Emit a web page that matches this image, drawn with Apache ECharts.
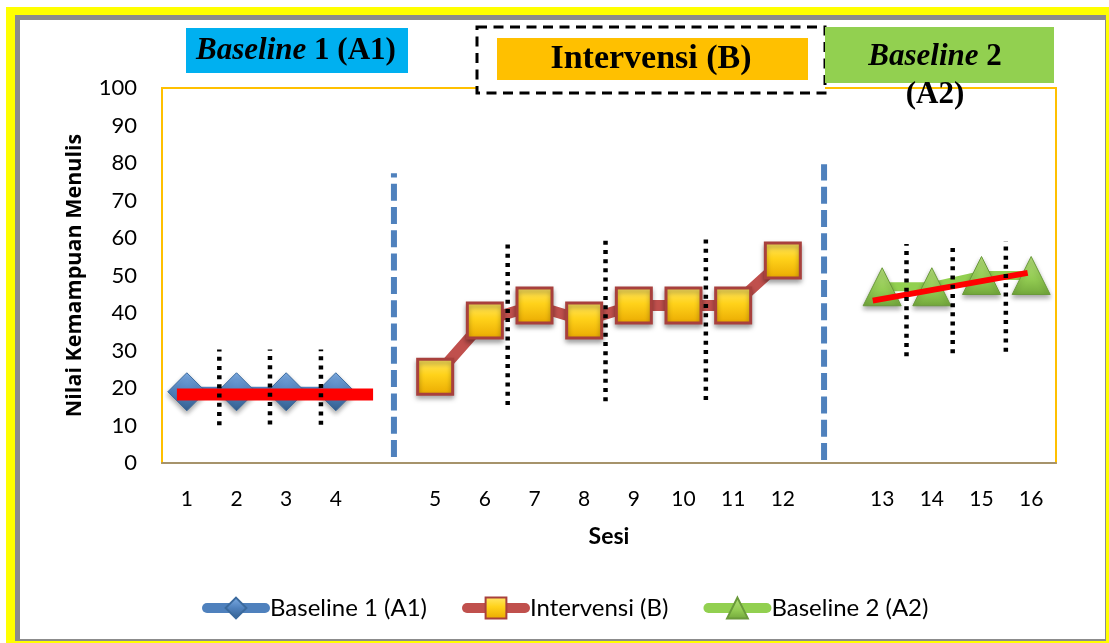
<!DOCTYPE html>
<html>
<head>
<meta charset="utf-8">
<script src="https://cdn.jsdelivr.net/npm/echarts@6/dist/echarts.min.js"></script>
<style>
  html, body { margin: 0; padding: 0; background: #ffffff; }
  #wrap { position: relative; width: 1109px; height: 643px; overflow: hidden; }
  .fr { position: absolute; }
  #chart { position: absolute; left: 0; top: 0; width: 1109px; height: 643px; }
</style>
</head>
<body>
<div id="wrap">
  <div class="fr" style="left:6px;top:7px;width:1103px;height:636px;background:#FFFF00"></div>
  <div class="fr" style="left:15px;top:15px;width:1091px;height:626px;background:#8C8C8C"></div>
  <div class="fr" style="left:20px;top:20px;width:1085px;height:619px;background:#FFFFFF"></div>
  <div id="chart"></div>
</div>
<script>
// ---- data ----
const categories = ['1','2','3','4','','5','6','7','8','9','10','11','12','','13','14','15','16'];
const baseline1  = [19, 19, 19, 19, '-', '-', '-', '-', '-', '-', '-', '-', '-', '-', '-', '-', '-', '-'];
const intervensi = ['-', '-', '-', '-', '-', 23, 38, 42, 38, 42, 42, 42, 54, '-', '-', '-', '-', '-'];
const baseline2  = ['-', '-', '-', '-', '-', '-', '-', '-', '-', '-', '-', '-', '-', '-', 47, 47, 50, 50];
const seriesNames = ['Baseline 1 (A1)', 'Intervensi (B)', 'Baseline 2 (A2)'];
const phaseLabels = ['Baseline', ' 1 (A1)', 'Intervensi (B)', 'Baseline', ' 2', '(A2)'];
const yMin = 0, yMax = 100, yStep = 10;
// trend lines [position on category scale, value]
const trendA1 = [[0.30, 18.3], [4.25, 18.3]];
const trendA2 = [[14.31, 43.3], [17.43, 50.7]];
// dotted range lines: [position, low, high]
const rangeLines = [
  [1.154, 10.1, 30.3], [2.174, 10.3, 30.3], [3.20, 10.2, 30.3],
  [6.96, 15.5, 59.2], [8.93, 16.5, 60.3], [10.95, 16.8, 60.5],
  [14.99, 28.5, 58.4], [15.92, 29.3, 58.7], [16.99, 29.7, 59.2]
];
// phase change lines: [position, low, high]
const phaseLines = [[4.67, 1.6, 77.3], [13.33, 0.8, 79.7]];

const chart = echarts.init(document.getElementById('chart'), null, { renderer: 'canvas' });

const lbl = "Lato, 'Open Sans', sans-serif";
const serif = "'Liberation Serif', 'DejaVu Serif', serif";

const diamondFill = new echarts.graphic.LinearGradient(0, 0, 0, 1, [
  { offset: 0, color: '#7FAEE6' }, { offset: 0.5, color: '#4F81BD' }, { offset: 1, color: '#35608F' }]);
const squareFill = new echarts.graphic.LinearGradient(0, 0, 0, 1, [
  { offset: 0, color: '#FFE86A' }, { offset: 0.45, color: '#FFD21A' }, { offset: 1, color: '#E9A800' }]);
const triFill = new echarts.graphic.LinearGradient(0, 0, 0, 1, [
  { offset: 0, color: '#B5E07A' }, { offset: 0.6, color: '#92CB52' }, { offset: 1, color: '#73A83C' }]);

const series = [
  {
    name: seriesNames[0], type: 'line', data: baseline1, z: 3,
    symbol: 'diamond', symbolSize: 38,
    lineStyle: { color: '#4F81BD', width: 10, cap: 'round' },
    itemStyle: { color: diamondFill, borderColor: '#3B6A9E', borderWidth: 1,
      shadowBlur: 5, shadowOffsetY: 3, shadowColor: 'rgba(0,0,0,0.35)' }
  },
  {
    name: seriesNames[1], type: 'line', data: intervensi, z: 3,
    symbol: 'rect', symbolSize: 35,
    lineStyle: { color: '#C0504D', width: 11, cap: 'round' },
    itemStyle: { color: squareFill, borderColor: '#A8403D', borderWidth: 3,
      shadowBlur: 5, shadowOffsetY: 3, shadowColor: 'rgba(0,0,0,0.35)' }
  },
  {
    name: seriesNames[2], type: 'line', data: baseline2, z: 3,
    symbol: 'triangle', symbolSize: 38,
    lineStyle: { color: '#92D050', width: 9, cap: 'round' },
    itemStyle: { color: triFill, borderColor: '#6A9A3A', borderWidth: 1,
      shadowBlur: 5, shadowOffsetY: 3, shadowColor: 'rgba(0,0,0,0.35)' }
  },
  {
    type: 'line', xAxisIndex: 1, data: trendA1, z: 5, symbol: 'none', silent: true,
    lineStyle: { color: '#FF0000', width: 12 }
  },
  {
    type: 'line', xAxisIndex: 1, data: trendA2, z: 5, symbol: 'none', silent: true,
    lineStyle: { color: '#FF0000', width: 6 }
  }
];
rangeLines.forEach(r => series.push({
  type: 'line', xAxisIndex: 1, z: 6, symbol: 'none', silent: true,
  data: [[r[0], r[1]], [r[0], r[2]]],
  lineStyle: { color: '#000000', width: 4.5, type: [4, 5.2] }
}));
phaseLines.forEach(r => series.push({
  type: 'line', xAxisIndex: 1, z: 6, symbol: 'none', silent: true,
  data: [[r[0], r[1]], [r[0], r[2]]],
  lineStyle: { color: '#4F81BD', width: 6, type: [17, 6.3] }
}));

const option = {
  backgroundColor: 'transparent',
  animation: false,
  grid: { left: 162, top: 88, right: 53, bottom: 180, show: true,
    borderColor: '#FFC000', borderWidth: 2, backgroundColor: 'transparent' },
  legend: {
    data: seriesNames, left: 197, top: 591, itemWidth: 58, itemHeight: 26, itemGap: 35,
    lineStyle: { width: 10, cap: 'round' },
    textStyle: { fontFamily: lbl, fontSize: 24, color: '#000' }
  },
  xAxis: [
    {
      type: 'category', data: categories, boundaryGap: true,
      axisLine: { show: true, lineStyle: { color: '#A6936B', width: 2 } },
      axisTick: { show: false },
      axisLabel: { fontFamily: lbl, fontSize: 21, color: '#000', margin: 26, interval: 0 },
      name: 'Sesi', nameLocation: 'middle', nameGap: 62,
      nameTextStyle: { fontFamily: lbl, fontSize: 23, fontWeight: 'bold', color: '#000' }
    },
    { type: 'value', min: 0, max: 18, show: false }
  ],
  yAxis: {
    type: 'value', min: yMin, max: yMax, interval: yStep,
    axisLine: { show: false }, axisTick: { show: false }, splitLine: { show: false },
    axisLabel: { fontFamily: lbl, fontSize: 22, color: '#000', margin: 25 },
    name: 'Nilai Kemampuan Menulis', nameLocation: 'middle', nameGap: 76, nameRotate: 90,
    nameTextStyle: { fontFamily: "'Open Sans', Lato, sans-serif", fontSize: 21.5, fontWeight: 'bold', color: '#000' }
  },
  series: series,
  graphic: [
    { type: 'rect', z: 100, shape: { x: 186, y: 28, width: 222, height: 45 }, style: { fill: '#00B0F0' } },
    { type: 'text', z: 101, x: 296, y: 51, style: {
        text: '{i|' + phaseLabels[0] + '}{b|' + phaseLabels[1] + '}', align: 'center', verticalAlign: 'middle',
        rich: { i: { fontFamily: serif, fontSize: 31, fontWeight: 'bold', fontStyle: 'italic', fill: '#000' },
                b: { fontFamily: serif, fontSize: 31, fontWeight: 'bold', fill: '#000' } } } },
    { type: 'rect', z: 100, shape: { x: 477, y: 27, width: 348, height: 66 },
      style: { fill: '#FFFFFF', stroke: '#000', lineWidth: 3, lineDash: [10, 6.5] } },
    { type: 'rect', z: 101, shape: { x: 497, y: 38, width: 311, height: 42 }, style: { fill: '#FFC000' } },
    { type: 'text', z: 102, x: 651, y: 59, style: {
        text: phaseLabels[2], align: 'center', verticalAlign: 'middle',
        font: "bold 34px 'Liberation Serif', serif", fill: '#000' } },
    { type: 'rect', z: 100, shape: { x: 825, y: 27, width: 229, height: 56 }, style: { fill: '#92D050' } },
    { type: 'text', z: 101, x: 935, y: 57, style: {
        text: '{i|' + phaseLabels[3] + '}{b|' + phaseLabels[4] + '}', align: 'center', verticalAlign: 'middle',
        rich: { i: { fontFamily: serif, fontSize: 31, fontWeight: 'bold', fontStyle: 'italic', fill: '#000' },
                b: { fontFamily: serif, fontSize: 31, fontWeight: 'bold', fill: '#000' } } } },
    { type: 'text', z: 101, x: 935, y: 95, style: {
        text: phaseLabels[5], align: 'center', verticalAlign: 'middle',
        font: "bold 31px 'Liberation Serif', serif", fill: '#000' } }
  ]
};
chart.setOption(option);
</script>
</body>
</html>
